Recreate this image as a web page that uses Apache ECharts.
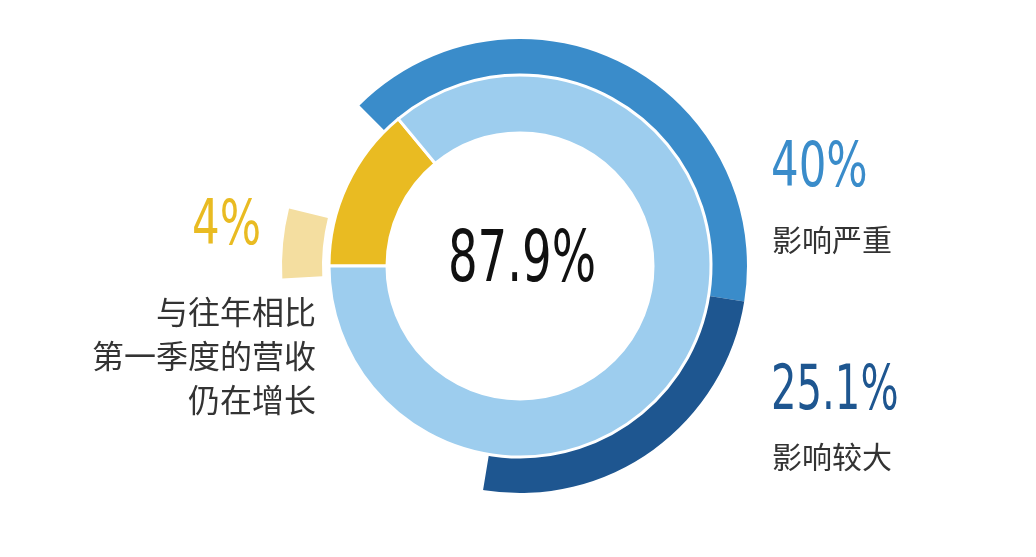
<!DOCTYPE html>
<html><head><meta charset="utf-8">
<script src="https://cdn.jsdelivr.net/npm/echarts@6/dist/echarts.min.js"></script>
<style>html,body{margin:0;background:#fff}#c{width:1036px;height:557px}</style>
</head><body><div id="c"></div>
<script>
var outerNames = ['影响严重', '影响较大', '其他'];
var outerValues = [40, 25.1, 34.9];
var innerNames = ['增长', '其他'];
var innerValues = [14, 86];
var tabValues = [17, 343];

var chart = echarts.init(document.getElementById('c'));
var cx = 520, cy = 266;
var none = {color: 'rgba(0,0,0,0)'};
var numFont = '"Liberation Sans Narrow", "DejaVu Sans Condensed", sans-serif';
var cjk = '"Noto Sans CJK SC", sans-serif';

function num(t, x, y, size, color, sx, align){
	return {type: 'text', x: x, y: y, scaleX: sx, style: {text: t, font: size + 'px ' + numFont, fill: color, align: align || 'left', verticalAlign: 'middle'}};
}

chart.setOption({
	animation: false,
	series: [{
		type: 'pie', center: [cx, cy], radius: [190, 227], startAngle: 135,
		label: {show: false}, silent: true,
		data: outerValues.map(function(v, i){
			return {name: outerNames[i], value: v, itemStyle: i == 0 ? {color: '#3a8cca'} : (i == 1 ? {color: '#1e5690'} : none)};
		})
	}, {
		type: 'pie', center: [cx, cy], radius: [133, 191], startAngle: 180,
		label: {show: false}, silent: true,
		itemStyle: {borderColor: '#fff', borderWidth: 3},
		data: innerValues.map(function(v, i){
			return {name: innerNames[i], value: v, itemStyle: {color: i == 0 ? '#e9bb22' : '#9dcdee'}};
		})
	}, {
		type: 'pie', center: [cx, cy], radius: [198, 238], startAngle: 183,
		label: {show: false}, silent: true,
		data: tabValues.map(function(v, i){
			return {value: v, itemStyle: i == 0 ? {color: '#f4dea0'} : none};
		})
	}],
	graphic: [
		num('87.9%', 522, 262, 72, '#111', 0.72, 'center'),
		num('40%', 771, 170, 62, '#3a8cca', 0.78),
		{type: 'text', x: 772, y: 240, style: {text: '影响严重', font: '30px ' + cjk, fill: '#333', verticalAlign: 'middle'}},
		num('25.1%', 771, 393, 62, '#1e5690', 0.72),
		{type: 'text', x: 772, y: 457, style: {text: '影响较大', font: '30px ' + cjk, fill: '#333', verticalAlign: 'middle'}},
		num('4%', 192, 228, 62, '#e9bb22', 0.78),
		{type: 'text', x: 316, y: 312, style: {text: '与往年相比', font: '32px ' + cjk, fill: '#333', align: 'right', verticalAlign: 'middle'}},
		{type: 'text', x: 316, y: 356, style: {text: '第一季度的营收', font: '32px ' + cjk, fill: '#333', align: 'right', verticalAlign: 'middle'}},
		{type: 'text', x: 316, y: 400, style: {text: '仍在增长', font: '32px ' + cjk, fill: '#333', align: 'right', verticalAlign: 'middle'}}
	]
});
</script></body></html>
